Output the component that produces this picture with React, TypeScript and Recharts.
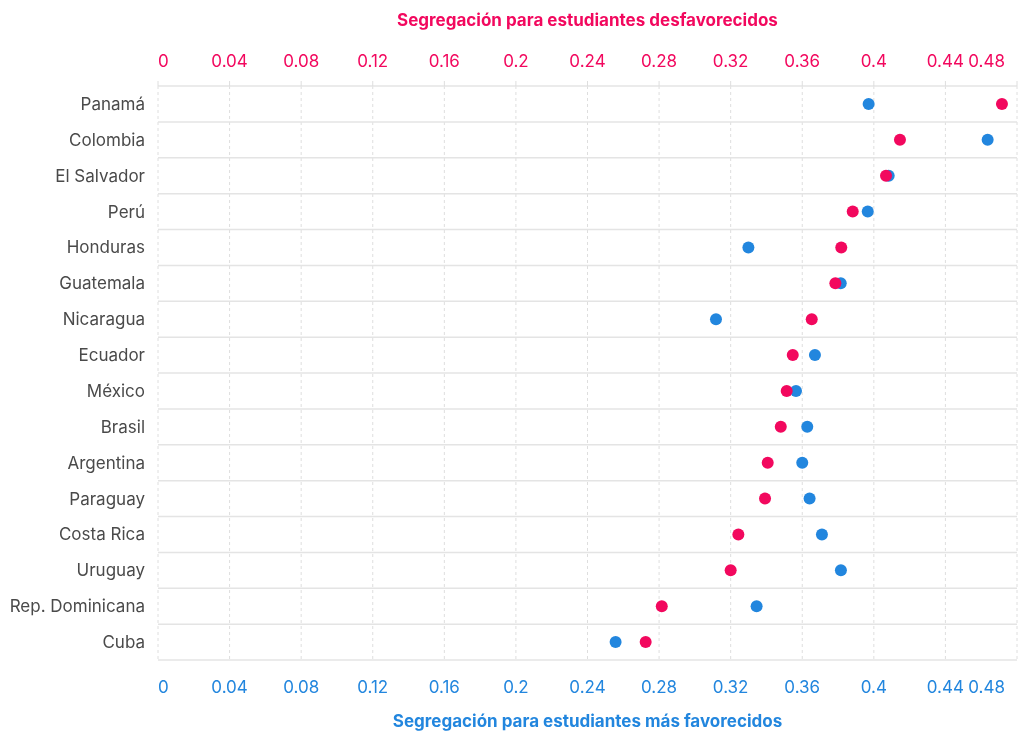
import {
  ScatterChart,
  Scatter,
  XAxis,
  YAxis,
  CartesianGrid,
  ReferenceLine,
  Text
} from 'recharts'

const countries = [
  'Panamá', 'Colombia', 'El Salvador', 'Perú', 'Honduras', 'Guatemala',
  'Nicaragua', 'Ecuador', 'México', 'Brasil', 'Argentina', 'Paraguay',
  'Costa Rica', 'Uruguay', 'Rep. Dominicana', 'Cuba'
]

// segregación para estudiantes desfavorecidos (eje superior)
const desfavorecidos = [
  0.4716, 0.4146, 0.4068, 0.3882, 0.3818, 0.3785, 0.3653, 0.3547,
  0.3513, 0.348, 0.3407, 0.3392, 0.3243, 0.32, 0.2815, 0.2725
]

// segregación para estudiantes más favorecidos (eje inferior)
const favorecidos = [
  0.3971, 0.4636, 0.4083, 0.3966, 0.3299, 0.3815, 0.3118, 0.3671,
  0.3565, 0.3628, 0.36, 0.3641, 0.371, 0.3816, 0.3345, 0.2557
]

const xTicks = [0, 0.04, 0.08, 0.12, 0.16, 0.2, 0.24, 0.28, 0.32, 0.36, 0.4, 0.44, 0.48]
const rowIndex = countries.map((_, i) => i)
const rowBorders = [-0.5, ...rowIndex.map(i => i + 0.5)]

const PINK = '#f2085e'
const BLUE = '#2286de'
const FONT = 'Inter, sans-serif'

const pinkData = desfavorecidos.map((v, i) => ({ x: v, y: i }))
const blueData = favorecidos.map((v, i) => ({ x: v, y: i }))

const fmt = (v: number) => String(Math.round(v * 100) / 100)

function makeTick (color: string, top: boolean) {
  return function XTick (props: any) {
    const { x, y, payload, index } = props
    const last = xTicks.length - 1
    const anchor = index === 0 ? 'start' : index === last ? 'end' : 'middle'
    return (
      <Text
        x={x}
        y={y}
        textAnchor={anchor}
        verticalAnchor={top ? 'end' : 'start'}
        fill={color}
        fontSize={17}
        fontFamily={FONT}
      >
        {fmt(payload.value)}
      </Text>
    )
  }
}

function Dot (color: string) {
  return function DotShape (props: any) {
    return <circle cx={props.cx} cy={props.cy} r={6} fill={color} />
  }
}

export default function App () {
  return (
    <div style={{ position: 'fixed', left: 0, top: 0, fontFamily: FONT }}>
      <ScatterChart
        width={1019}
        height={731}
        margin={{ top: 0, right: 2, bottom: 0, left: 0 }}
      >
        <CartesianGrid
          xAxisId='bottom'
          horizontal={false}
          stroke='#dedede'
          strokeDasharray='3 3'
        />
        <XAxis
          xAxisId='top'
          orientation='top'
          type='number'
          dataKey='x'
          domain={[0, 0.48]}
          ticks={xTicks}
          height={86}
          axisLine={false}
          tickLine={{ stroke: '#dedede' }}
          tickSize={5}
          tickMargin={14}
          tick={makeTick(PINK, true)}
          label={{
            value: 'Segregación para estudiantes desfavorecidos',
            position: 'insideTop',
            offset: 14,
            fill: PINK,
            fontSize: 17,
            fontWeight: 700,
            fontFamily: FONT
          }}
        />
        <XAxis
          xAxisId='bottom'
          orientation='bottom'
          type='number'
          dataKey='x'
          domain={[0, 0.48]}
          ticks={xTicks}
          height={71}
          axisLine={false}
          tickLine={false}
          tickMargin={15}
          tick={makeTick(BLUE, false)}
          label={{
            value: 'Segregación para estudiantes más favorecidos',
            position: 'insideBottom',
            offset: 4,
            fill: BLUE,
            fontSize: 17,
            fontWeight: 700,
            fontFamily: FONT
          }}
        />
        <YAxis
          type='number'
          dataKey='y'
          domain={[-0.5, 15.5]}
          ticks={rowIndex}
          reversed
          width={158}
          axisLine={false}
          tickLine={false}
          tickMargin={7}
          interval={0}
          tickFormatter={(i: number) => countries[i] ?? ''}
          tick={{ fill: '#4a4a4a', fontSize: 17, fontFamily: FONT }}
        />
        {rowBorders.map(b => (
          <ReferenceLine
            key={b}
            y={b}
            xAxisId='bottom'
            stroke='#e4e4e4'
            strokeWidth={1.5}
          />
        ))}
        <Scatter
          xAxisId='bottom'
          data={blueData}
          fill={BLUE}
          shape={Dot(BLUE)}
          isAnimationActive={false}
        />
        <Scatter
          xAxisId='top'
          data={pinkData}
          fill={PINK}
          shape={Dot(PINK)}
          isAnimationActive={false}
        />
      </ScatterChart>
    </div>
  )
}
